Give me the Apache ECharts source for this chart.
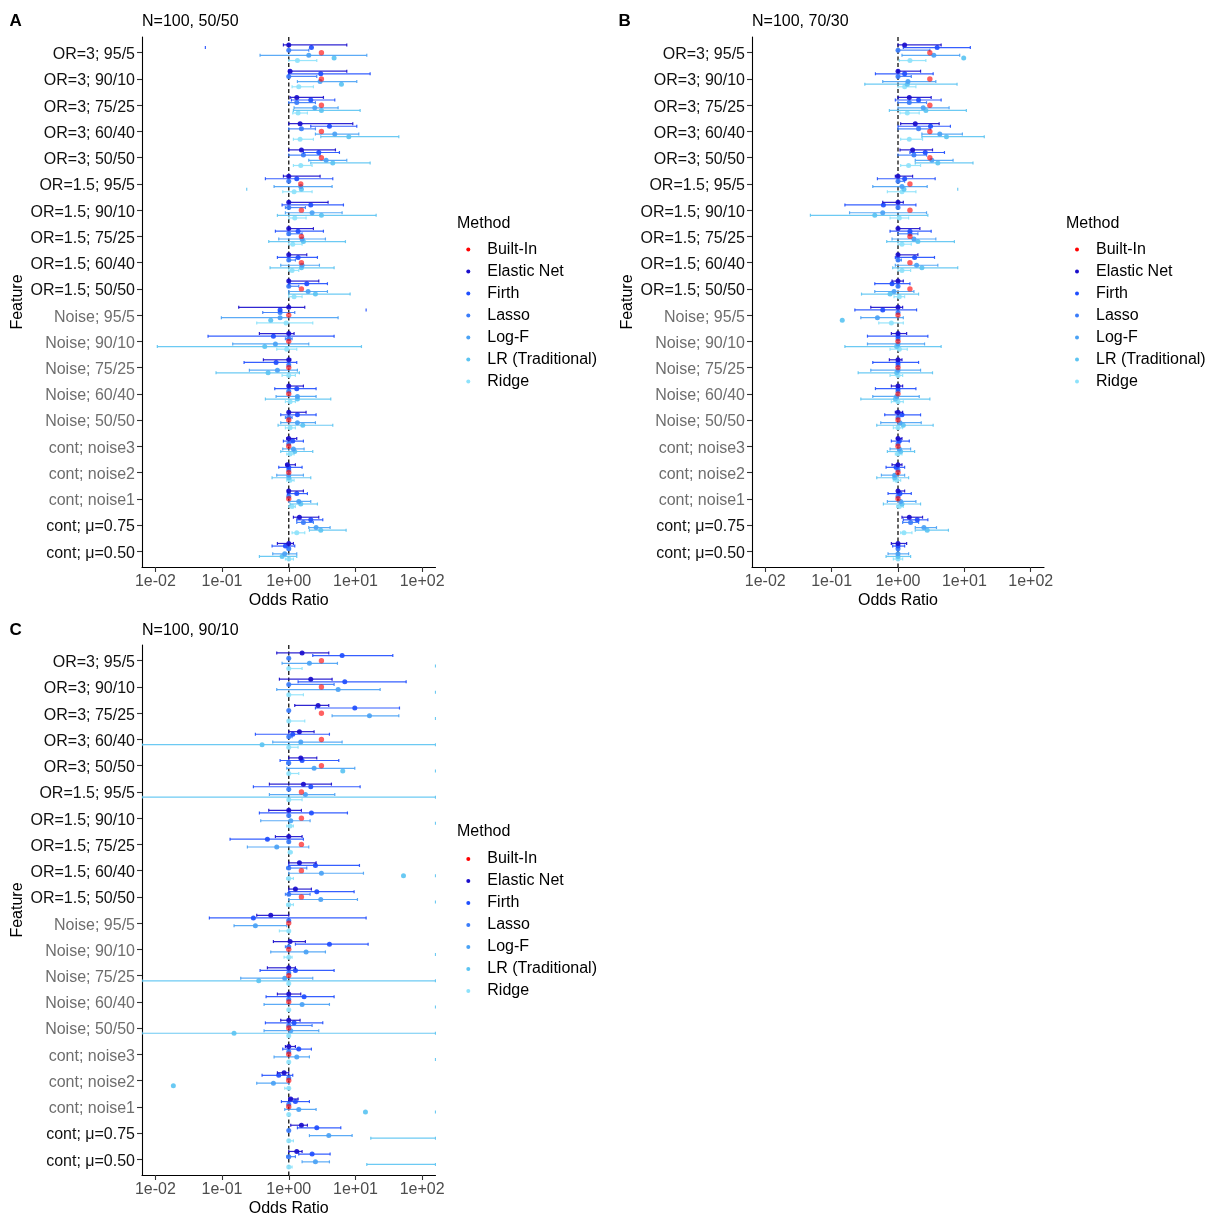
<!DOCTYPE html>
<html><head><meta charset="utf-8">
<script src="https://cdn.jsdelivr.net/npm/echarts@6/dist/echarts.min.js"></script>
<style>html,body{margin:0;padding:0;background:#fff}#chart{width:1211px;height:1214px}</style>
</head><body><div id="chart"></div>
<script>
// ---------- categories (top to bottom) ----------
const features = ['OR=3; 95/5','OR=3; 90/10','OR=3; 75/25','OR=3; 60/40','OR=3; 50/50',
  'OR=1.5; 95/5','OR=1.5; 90/10','OR=1.5; 75/25','OR=1.5; 60/40','OR=1.5; 50/50',
  'Noise; 95/5','Noise; 90/10','Noise; 75/25','Noise; 60/40','Noise; 50/50',
  'cont; noise3','cont; noise2','cont; noise1','cont; \u03bc=0.75','cont; \u03bc=0.50'];
const mutedFeatures = ['Noise; 95/5','Noise; 90/10','Noise; 75/25','Noise; 60/40','Noise; 50/50','cont; noise3','cont; noise2','cont; noise1'];
const xTickExponents = [-2, -1, 0, 1, 2];
const panelTitles = ['N=100, 50/50', 'N=100, 70/30', 'N=100, 90/10'];

// ---------- values: log10(odds ratio) as [estimate, lower, upper]; null = not drawn ----------
// Panel A
const A_BuiltIn = [0.49,0.49,0.49,0.49,0.49,0.18,0.19,0.19,0.19,0.19,0,0,0,0,0,0,0,0,null,null];
const A_EN = [[0,-0.08,0.87],[0.02,0,0.87],[0.12,0.02,0.52],[0.17,0,0.96],[0.19,0,0.7],[0,-0.08,0.47],[0,0,0.59],[0,0,0.37],[0,0,0.27],[0,0,0.45],[0,-0.75,0.24],[0,-0.44,0.08],[0,-0.38,0.03],[0,0,0.22],[0,0,0.26],[0,-0.03,0.12],[-0.02,-0.04,0.1],[0,-0.02,0.22],[0.16,0.07,0.45],[0,-0.17,0.07]];
const A_Firth = [[0.34,-1.25,null],[0.48,0,1.22],[0.33,0.04,0.69],[0.61,0.33,1.02],[0.45,0.22,0.76],[0.12,-0.35,0.66],[0.33,-0.1,0.82],[0.14,-0.2,0.52],[0.14,-0.17,0.43],[0.27,0,0.58],[-0.13,null,1.16],[-0.23,-1.21,0.68],[-0.19,-0.67,0.12],[0.12,-0.21,0.41],[0.13,-0.12,0.41],[0.06,-0.08,0.22],[0,-0.15,0.2],[0.12,-0.02,0.28],[0.33,0.12,0.51],[-0.05,-0.25,0.09]];
const A_Lasso = [[0,0,0.3],[0,0,0.42],[0.12,0,0.4],[0.19,0,0.4],[0.22,0,0.47],[0,0,0],[0,-0.05,0.25],[0,0,0.2],[0,0,0.1],[0,0,0.15],[-0.13,-0.39,0.09],[0,-0.05,0.05],[0,0,0],[0,0,0],[0,-0.05,0.05],[0,0,0],[0,0,0],[0,0,0],[0.22,0.12,0.37],[0,-0.02,0.02]];
const A_LogF = [[0.3,-0.43,1.17],[0.47,0.13,1.02],[0.39,0.08,0.74],[0.69,0.4,1.05],[0.56,0.3,0.87],[0.18,-0.22,0.65],[0.35,-0.05,0.8],[0.2,-0.15,0.55],[0.2,-0.12,0.46],[0.29,0,0.58],[-0.13,-1.01,0.74],[-0.2,-0.84,0.3],[-0.17,-0.59,0.13],[0.13,-0.19,0.41],[0.13,-0.12,0.4],[0.07,-0.09,0.23],[0,-0.18,0.22],[0.15,0,0.33],[0.41,0.3,0.62],[-0.06,-0.24,0.12]];
const A_LR = [[0.68,null,null],[0.79,null,null],[0.49,0.07,1.07],[0.9,0.48,1.65],[0.66,0.33,1.22],[0.19,-0.63,null],[0.49,-0.17,1.31],[0.22,-0.3,0.85],[0.19,-0.28,0.68],[0.4,0,0.92],[-0.27,null,null],[-0.36,-1.97,1.09],[-0.31,-1.09,0.16],[0.13,-0.35,0.63],[0.21,-0.16,0.66],[0.09,-0.12,0.36],[0,-0.25,0.33],[0.18,0.02,0.43],[0.48,0.31,0.86],[-0.1,-0.44,0.12]];
const A_Ridge = [[0.13,0,0.42],[0.15,0.05,0.37],[0.14,0.06,0.28],[0.17,0.07,0.37],[0.18,0.07,0.35],[0.08,-0.09,0.35],[0.09,0,0.26],[0.06,0,0.2],[0.05,0,0.15],[0.08,0,0.2],[-0.04,-0.48,0.36],[-0.03,-0.18,0.12],[0,-0.1,0.1],[0.02,-0.05,0.1],[0.02,-0.05,0.1],[0.02,-0.03,0.08],[0.02,-0.03,0.08],[0.05,0,0.1],[0.12,0.05,0.24],[0,-0.05,0.07]];
// Panel B
const B_BuiltIn = [0.48,0.48,0.48,0.48,0.48,0.18,0.18,0.18,0.18,0.18,0,0,0,0,0,0,0,0,null,null];
const B_EN = [[0.1,0,0.65],[0,0,0.34],[0.17,0,0.5],[0.26,0.04,0.62],[0.22,0.03,0.52],[0,-0.04,0.22],[0,-0.23,0.08],[0,0,0.33],[0,0,0.3],[0,-0.09,0.08],[0,-0.41,0.07],[0,-0.1,0.13],[0,-0.13,0.06],[0,-0.1,0.07],[0,-0.04,0.07],[0,-0.02,0.06],[0,-0.09,0.06],[0,0,0.1],[0.17,0.06,0.37],[0,-0.1,0.13]];
const B_Firth = [[0.59,0.08,1.09],[0.1,-0.34,0.53],[0.31,-0.04,0.65],[0.49,0,0.79],[0.41,0.18,0.7],[0.1,-0.31,0.56],[-0.22,-0.8,0.27],[0.18,-0.12,0.5],[0.25,-0.04,0.55],[-0.09,-0.35,0.18],[-0.23,-0.65,0.28],[0,-0.46,0.45],[0,-0.38,0.31],[0,-0.34,0.27],[0.06,-0.2,0.34],[0.02,-0.1,0.17],[-0.03,-0.18,0.1],[0.03,-0.15,0.2],[0.29,0.08,0.45],[0,-0.08,0.1]];
const B_Lasso = [[0,0,0.48],[0,0,0.2],[0.17,0,0.43],[0.31,0,0.49],[0.24,0,0.43],[0,0,0.1],[0,0,0],[0.18,0,0.3],[0,0,0.05],[0,0,0],[0,0,0],[0,0,0],[0,0,0],[0,0,0],[0,0,0],[0,0,0],[0,0,0],[0,0,0],[0.19,0.07,0.31],[0,0,0]];
const B_LogF = [[0.54,0.06,0.93],[0.15,-0.23,0.57],[0.38,0,0.77],[0.63,0.36,0.97],[0.51,0.26,0.83],[0.06,-0.38,0.44],[-0.23,-0.73,0.43],[0.24,-0.09,0.57],[0.28,-0.04,0.6],[-0.06,-0.35,0.24],[-0.31,-0.56,0.08],[0,-0.46,0.4],[0,-0.41,0.34],[-0.02,-0.38,0.32],[0.03,-0.26,0.35],[0.02,-0.12,0.19],[-0.05,-0.25,0.1],[0.04,-0.16,0.27],[0.39,0.26,0.58],[0,-0.15,0.16]];
const B_LR = [[0.99,null,null],[0.14,-0.5,0.89],[0.42,-0.13,1.03],[0.73,0.36,1.3],[0.6,0.26,1.13],[0.09,null,0.9],[-0.35,-1.32,0.45],[0.3,-0.17,0.85],[0.36,-0.08,0.9],[-0.12,-0.55,0.31],[-0.84,null,null],[-0.02,-0.8,0.65],[-0.02,-0.6,0.52],[-0.04,-0.56,0.48],[0.08,-0.32,0.53],[0.04,-0.16,0.25],[-0.05,-0.32,0.16],[0.06,-0.22,0.34],[0.44,0.26,0.76],[0,-0.18,0.19]];
const B_Ridge = [[0.18,0.02,0.42],[0.1,0,0.27],[0.14,0.03,0.32],[0.17,0.04,0.37],[0.16,0.04,0.34],[0.06,-0.16,0.27],[0.02,-0.12,0.16],[0.06,0,0.2],[0.06,0,0.19],[0.02,-0.06,0.1],[-0.1,-0.29,0.08],[0.02,-0.12,0.14],[0,-0.12,0.07],[0,-0.1,0.08],[0,-0.07,0.07],[0,-0.04,0.06],[-0.02,-0.07,0.04],[0.02,-0.02,0.08],[0.09,0.04,0.21],[0,-0.07,0.07]];
// Panel C
const C_BuiltIn = [0.49,0.49,0.49,0.49,0.49,0.19,0.19,0.19,0.19,0.19,0,0,0,0,0,0,0,0,null,null];
const C_EN = [[0.2,-0.18,0.6],[0.33,-0.14,0.65],[0.44,0.09,0.6],[0.16,0,0.38],[0.18,0,0.42],[0.22,-0.29,0.64],[0,-0.3,0.19],[0,-0.2,0.2],[0.16,0,0.41],[0.1,0,0.34],[-0.27,-0.48,0],[0.02,-0.23,0.25],[0,-0.32,0.1],[0,-0.17,0.18],[0,-0.12,0.17],[0,-0.05,0.1],[-0.07,-0.17,0],[0.03,0,0.14],[0.19,0.03,0.28],[0.12,0,0.2]];
const C_Firth = [[0.8,0.36,1.56],[0.84,0.14,1.76],[0.99,0.4,1.66],[0.06,-0.5,0.61],[0.2,-0.13,0.75],[0.33,-0.53,1.07],[0.34,-0.44,0.88],[-0.32,-0.88,0.22],[0.4,0,1.06],[0.42,0,0.98],[-0.53,-1.19,1.16],[0.61,0.1,1.19],[0.1,-0.43,0.68],[0.23,-0.34,0.68],[0.08,-0.35,0.51],[0.15,-0.09,0.34],[-0.15,-0.4,0.06],[0.1,-0.11,0.31],[0.42,0.13,0.78],[0.35,0.15,0.62]];
const C_Lasso = [[0,0,0],[0,0,0.68],[0,0,0],[0,0,0.05],[0,-0.03,0],[0,0,0],[0,0,0],[0,0,0],[0,-0.03,0.27],[0,-0.05,0.32],[0,0,0],[0,-0.05,0],[0,0,0],[0,0,0],[0,0,0.35],[0,0,0],[0,0,0],[0,0,0],[0,0,0],[0,-0.03,0.1]];
const C_LogF = [[0.31,-0.1,0.73],[0.74,-0.18,1.37],[1.21,0.65,1.65],[0.18,-0.24,0.8],[0.38,-0.03,0.99],[0.25,-0.29,0.69],[0.03,-0.42,0.32],[-0.18,-0.62,0.3],[0.49,0,1.12],[0.48,0,1.03],[-0.5,-0.82,-0.03],[0.26,-0.27,0.55],[-0.06,-0.72,0.36],[0.2,-0.37,0.61],[0.03,-0.37,0.45],[0.12,-0.22,0.31],[-0.23,-0.48,0],[0.15,-0.06,0.41],[0.6,0.31,0.95],[0.4,0.2,0.61]];
const C_LR = [[null,null,Infinity],[null,null,Infinity],[null,null,Infinity],[-0.4,-Infinity,Infinity],[0.81,null,Infinity],[null,-Infinity,Infinity],[null,null,Infinity],[null,null,null],[1.72,null,Infinity],[null,null,Infinity],[null,null,null],[null,null,Infinity],[-0.45,-Infinity,Infinity],[null,null,Infinity],[-0.82,-Infinity,Infinity],[null,null,Infinity],[-1.73,null,null],[1.15,null,Infinity],[null,1.23,Infinity],[null,1.17,Infinity]];
const C_Ridge = [[0,0,0.2],[0,0,0.22],[0,0,0.24],[0,0,0.14],[0,0,0.15],[0,0,0.2],[0.02,-0.03,0.07],[0.02,0,0.05],[0,-0.03,0.07],[0,-0.03,0.07],[0,-0.14,0],[0,-0.07,0.05],[0,0,0],[0,0,0],[0,0,0],[0,0,0],[0,-0.06,0],[0,0,0],[0,0,0.07],[0,0,0.05]];

// ---------- styling ----------
const FONT = 'Liberation Sans, Arial, sans-serif';
const X_MIN = -2.2, X_MAX = 2.2;
const SLOT = 2.6, CAP = 1.5;
const methods = [
  {name:'Built-In', color:'#FF0000', slot:0},
  {name:'Elastic Net', color:'#1A0DCC', slot:-3},
  {name:'Firth', color:'#1F4EFF', slot:-2},
  {name:'Lasso', color:'#3A7CFA', slot:-1},
  {name:'Log-F', color:'#4AA2F5', slot:1},
  {name:'LR (Traditional)', color:'#5CC4F2', slot:2},
  {name:'Ridge', color:'#8DE2FB', slot:3}
];
const panels = [
  {label:'A', title:panelTitles[0], grid:{left:142, top:37, width:293.5, height:530}, legendLeft:466.3, legendTop:240.5, methodLeft:457, methodTop:215,
   data:{'Built-In':A_BuiltIn,'Elastic Net':A_EN,'Firth':A_Firth,'Lasso':A_Lasso,'Log-F':A_LogF,'LR (Traditional)':A_LR,'Ridge':A_Ridge}},
  {label:'B', title:panelTitles[1], grid:{left:752, top:37, width:292, height:530}, legendLeft:1075, legendTop:240.5, methodLeft:1066, methodTop:215,
   data:{'Built-In':B_BuiltIn,'Elastic Net':B_EN,'Firth':B_Firth,'Lasso':B_Lasso,'Log-F':B_LogF,'LR (Traditional)':B_LR,'Ridge':B_Ridge}},
  {label:'C', title:panelTitles[2], grid:{left:142, top:645, width:293.5, height:530}, legendLeft:466.3, legendTop:850, methodLeft:457, methodTop:823,
   data:{'Built-In':C_BuiltIn,'Elastic Net':C_EN,'Firth':C_Firth,'Lasso':C_Lasso,'Log-F':C_LogF,'LR (Traditional)':C_LR,'Ridge':C_Ridge}}
];
const labelX = [9.5, 618.5, 9.5];
const labelTop = [13, 13, 622];

function renderer(rows, slot, color, builtIn) {
  return function (params, api) {
    const i = params.dataIndex;
    const row = rows[i];
    const y = api.coord([0, i])[1] + slot * SLOT;
    const px = v => api.coord([v === Infinity ? X_MAX : (v === -Infinity ? X_MIN : v), i])[0];
    const children = [];
    if (!builtIn) {
      const lo = row[1], hi = row[2];
      const ls = {stroke: color, lineWidth: 1.2, opacity: 0.9};
      if (lo !== null && hi !== null) children.push({type:'line', shape:{x1:px(lo), y1:y, x2:px(hi), y2:y}, style:ls});
      if (lo !== null) children.push({type:'line', shape:{x1:px(lo), y1:y-CAP, x2:px(lo), y2:y+CAP}, style:ls});
      if (hi !== null) children.push({type:'line', shape:{x1:px(hi), y1:y-CAP, x2:px(hi), y2:y+CAP}, style:ls});
    }
    const est = builtIn ? row : row[0];
    if (est !== null) children.push({type:'circle', shape:{cx:px(est), cy:y, r: builtIn ? 2.7 : 2.5},
      style:{fill: color, opacity: builtIn ? 0.62 : 0.92}});
    return {type:'group', children};
  };
}

const grids = [], xAxes = [], yAxes = [], series = [], titles = [], legends = [];
const tickIdx = features.map((f, i) => i);
panels.forEach((p, k) => {
  grids.push(Object.assign({containLabel:false, outerBoundsMode:'none'}, p.grid));
  xAxes.push({type:'value', gridIndex:k, min:X_MIN, max:X_MAX, splitLine:{show:false},
    name:'Odds Ratio', nameLocation:'middle', nameGap:26,
    nameTextStyle:{fontFamily:FONT, fontSize:16, color:'#000'},
    axisLine:{show:true, onZero:false, lineStyle:{color:'#000', width:1.1}},
    axisTick:{show:true, customValues:xTickExponents, length:5, lineStyle:{color:'#333', width:1.1}},
    axisLabel:{customValues:xTickExponents, margin:7, fontFamily:FONT, fontSize:16, color:'#4d4d4d',
      formatter: v => '1e' + (v < 0 ? '-' : '+') + String(Math.abs(v)).padStart(2, '0')}});
  yAxes.push({type:'value', gridIndex:k, inverse:true, min:-0.6, max:19.6, splitLine:{show:false},
    name:'Feature', nameLocation:'middle', nameGap:116, nameRotate:90,
    nameTextStyle:{fontFamily:FONT, fontSize:16, color:'#000'},
    axisLine:{show:true, onZero:false, lineStyle:{color:'#000', width:1.1}},
    axisTick:{show:true, customValues:tickIdx, length:5, lineStyle:{color:'#333', width:1.1}},
    axisLabel:{customValues:tickIdx, margin:7, fontFamily:FONT, fontSize:16,
      formatter: v => { const f = features[v]; return mutedFeatures.includes(f) ? '{m|' + f + '}' : '{k|' + f + '}'; },
      rich:{m:{color:'#6e6e6e', fontSize:16, fontFamily:FONT, padding:[4,0,0,0]}, k:{color:'#111', fontSize:16, fontFamily:FONT, padding:[4,0,0,0]}}}});
  // dashed reference line at OR = 1
  series.push({type:'custom', xAxisIndex:k, yAxisIndex:k, silent:true, z:1, data:[[0, 0]],
    renderItem: (params, api) => {
      const a = api.coord([0, -0.6]), b = api.coord([0, 19.6]);
      return {type:'line', shape:{x1:a[0], y1:a[1], x2:b[0], y2:b[1]}, style:{stroke:'#222', lineWidth:1.4, lineDash:[4, 2.5]}};
    }});
  const order = ['Ridge','LR (Traditional)','Log-F','Lasso','Firth','Elastic Net','Built-In'];
  order.forEach(name => {
    const m = methods.find(q => q.name === name);
    const rows = p.data[name];
    series.push({type:'custom', name, xAxisIndex:k, yAxisIndex:k, z:2, clip:true,
      itemStyle:{color:m.color},
      data: rows.map((r, i) => [0, i]),
      renderItem: renderer(rows, m.slot, m.color, name === 'Built-In')});
  });
  titles.push({text:p.label, left:labelX[k], top:labelTop[k], padding:0,
    textStyle:{fontFamily:FONT, fontSize:17, fontWeight:'bold', color:'#000', lineHeight:17}});
  titles.push({text:p.title, left:p.grid.left, top:labelTop[k], padding:0,
    textStyle:{fontFamily:FONT, fontSize:16, fontWeight:'normal', color:'#000', lineHeight:17}});
  titles.push({text:'Method', left:p.methodLeft, top:p.methodTop, padding:0,
    textStyle:{fontFamily:FONT, fontSize:16, fontWeight:'normal', color:'#000', lineHeight:17}});
  legends.push({orient:'vertical', left:p.legendLeft, top:p.legendTop, padding:0,
    itemWidth:28, itemHeight:4, itemGap:4, icon:'circle',
    data: methods.map(m => m.name),
    textStyle:{fontFamily:FONT, fontSize:16, color:'#000', lineHeight:18}});
});

const chart = echarts.init(document.getElementById('chart'), null, {renderer:'canvas'});
chart.setOption({backgroundColor:'#fff', animation:false, title:titles, legend:legends,
  grid:grids, xAxis:xAxes, yAxis:yAxes, series});
</script></body></html>
